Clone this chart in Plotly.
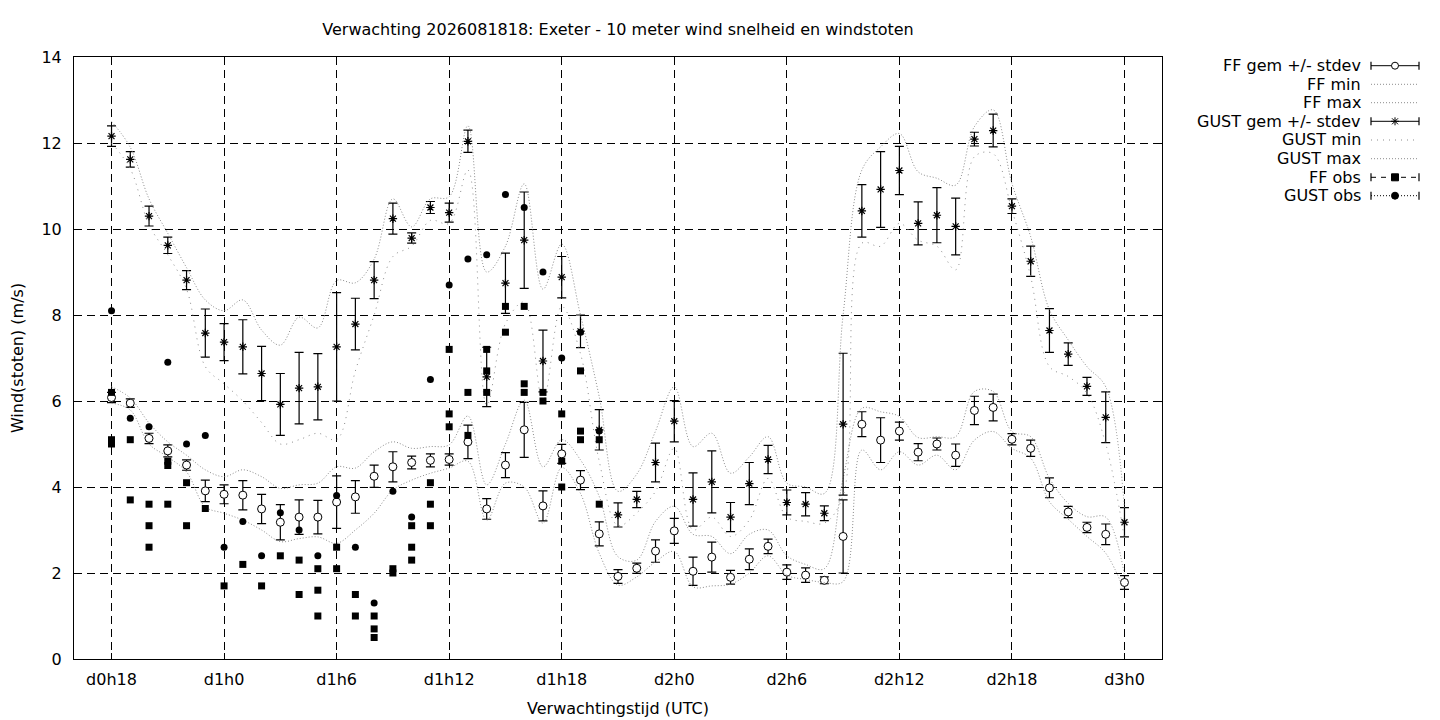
import plotly.graph_objects as go

# Forecast hours (hourly steps from d0h18 to d3h0)
hours = list(range(18, 73))
tick_hours = [18, 24, 30, 36, 42, 48, 54, 60, 66, 72]
tick_labels = ["d0h18", "d1h0", "d1h6", "d1h12", "d1h18",
               "d2h0", "d2h6", "d2h12", "d2h18", "d3h0"]

# Mean wind speed (FF) and its spread
ff_mean = [6.08, 5.95, 5.13, 4.84, 4.51, 3.91, 3.83, 3.81, 3.49, 3.18,
           3.30, 3.30, 3.65, 3.77, 4.25, 4.47, 4.57, 4.62, 4.64, 5.05,
           3.49, 4.51, 5.33, 3.56, 4.77, 4.16, 2.91, 1.92, 2.11, 2.51,
           2.98, 2.04, 2.37, 1.90, 2.32, 2.62, 2.02, 1.95, 1.83, 2.85,
           5.46, 5.09, 5.30, 4.81, 5.00, 4.74, 5.78, 5.85, 5.11, 4.90,
           3.98, 3.42, 3.06, 2.90, 1.78]
ff_std = [0.12, 0.10, 0.12, 0.14, 0.12, 0.25, 0.22, 0.34, 0.34, 0.41,
          0.40, 0.39, 0.61, 0.38, 0.26, 0.35, 0.15, 0.15, 0.13, 0.39,
          0.24, 0.29, 0.64, 0.35, 0.22, 0.22, 0.28, 0.16, 0.12, 0.26,
          0.29, 0.33, 0.35, 0.16, 0.24, 0.17, 0.17, 0.17, 0.08, 0.85,
          0.29, 0.52, 0.21, 0.20, 0.14, 0.26, 0.33, 0.31, 0.13, 0.19,
          0.23, 0.13, 0.12, 0.24, 0.16]
ff_min = [5.95, 5.79, 5.00, 4.70, 4.35, 3.54, 3.39, 3.23, 3.00, 2.73,
          2.80, 2.84, 2.69, 3.00, 3.39, 3.93, 4.16, 4.32, 4.44, 4.60,
          3.23, 4.09, 4.00, 3.16, 4.45, 3.85, 2.46, 1.72, 1.91, 2.26,
          2.50, 1.68, 1.70, 1.74, 2.00, 2.40, 1.95, 1.85, 1.78, 1.80,
          4.86, 4.40, 4.82, 4.51, 4.74, 4.40, 5.09, 5.29, 4.90, 4.67,
          3.66, 3.25, 2.85, 2.46, 1.58]
ff_max = [6.33, 6.07, 5.49, 5.05, 4.74, 4.40, 4.24, 4.40, 4.24, 3.97,
          4.05, 4.09, 4.47, 4.44, 4.82, 5.05, 4.90, 4.94, 4.98, 5.65,
          4.05, 5.00, 6.02, 4.47, 5.10, 4.63, 3.78, 2.38, 2.30, 3.20,
          3.55, 2.90, 2.85, 2.45, 2.90, 3.00, 2.40, 2.20, 2.10, 4.20,
          5.83, 5.75, 5.64, 5.15, 5.17, 5.17, 6.22, 6.22, 5.29, 5.17,
          4.20, 3.62, 3.31, 3.30, 1.95]

# Mean wind gusts and their spread
gust_mean = [12.16, 11.62, 10.30, 9.62, 8.81, 7.58, 7.37, 7.26, 6.64, 5.92,
             6.30, 6.33, 7.26, 7.79, 8.81, 10.24, 9.79, 10.50, 10.38, 12.04,
             6.56, 8.74, 9.74, 6.93, 8.88, 7.62, 5.33, 3.35, 3.71, 4.57,
             5.53, 3.71, 4.12, 3.30, 4.08, 4.64, 3.64, 3.60, 3.39, 5.46,
             10.42, 10.92, 11.36, 10.13, 10.32, 10.06, 12.09, 12.29, 10.53, 9.25,
             7.64, 7.09, 6.34, 5.62, 3.18]
gust_std = [0.24, 0.18, 0.23, 0.19, 0.22, 0.56, 0.43, 0.63, 0.63, 0.72,
            0.83, 0.77, 1.26, 0.60, 0.43, 0.36, 0.12, 0.14, 0.22, 0.26,
            0.69, 0.70, 1.12, 0.72, 0.48, 0.38, 0.47, 0.28, 0.19, 0.45,
            0.48, 0.62, 0.72, 0.34, 0.49, 0.33, 0.29, 0.27, 0.17, 1.65,
            0.61, 0.88, 0.56, 0.50, 0.64, 0.66, 0.16, 0.38, 0.17, 0.35,
            0.51, 0.26, 0.21, 0.59, 0.34]
gust_min = [12.00, 11.40, 10.10, 9.40, 8.60, 6.80, 6.40, 6.00, 5.50, 5.00,
            5.10, 5.25, 5.10, 6.70, 8.00, 9.36, 9.60, 10.20, 10.13, 11.37,
            5.90, 7.80, 8.30, 6.00, 8.20, 7.10, 4.60, 3.10, 3.40, 3.90,
            4.90, 3.00, 3.30, 2.85, 3.23, 4.20, 3.30, 3.20, 3.16, 3.80,
            9.67, 9.60, 10.13, 9.74, 9.60, 9.05, 11.68, 11.75, 10.44, 8.89,
            6.80, 6.57, 6.18, 5.00, 2.80]
gust_max = [12.50, 11.90, 10.70, 9.90, 9.10, 8.35, 8.10, 8.35, 7.65, 7.30,
            7.95, 7.70, 8.80, 8.75, 9.30, 10.70, 10.05, 10.70, 10.75, 12.40,
            9.00, 9.60, 11.05, 8.60, 9.65, 8.00, 6.10, 3.90, 4.30, 5.30,
            6.33, 4.94, 5.25, 4.32, 4.70, 5.17, 4.09, 4.00, 3.85, 8.00,
            11.37, 11.91, 12.22, 11.33, 11.18, 11.02, 12.38, 12.77, 11.06, 9.82,
            8.12, 7.42, 6.80, 6.33, 3.50]

# Observations (several reports per hour)
ff_obs_hour = [18, 18, 18, 19, 19, 20, 20, 20, 21, 21, 21, 22, 22, 23, 24, 25,
               26, 27, 28, 28, 29, 29, 29, 30, 30, 31, 31, 32, 32, 32, 33, 33,
               34, 34, 34, 35, 35, 35, 36, 36, 36, 37, 37, 38, 38, 38, 39, 39,
               40, 40, 40, 41, 41, 42, 42, 42, 43, 43, 43, 44, 44]
ff_obs = [6.2, 5.1, 5.0, 5.1, 3.7, 3.6, 3.1, 2.6, 4.6, 4.5, 3.6, 4.1, 3.1, 3.5, 1.7, 2.2,
          1.7, 2.4, 2.3, 1.5, 2.1, 1.6, 1.0, 2.6, 2.1, 1.5, 1.0, 1.0, 0.7, 0.5, 2.1, 2.0,
          3.1, 2.6, 2.3, 4.1, 3.6, 3.1, 7.2, 5.7, 5.4, 6.2, 5.2, 7.2, 6.7, 6.2, 8.2, 7.6,
          8.2, 6.4, 6.2, 6.2, 6.0, 5.7, 4.6, 4.0, 6.7, 5.3, 5.1, 5.1, 3.6]
gust_obs_hour = list(range(18, 45))
gust_obs = [8.1, 5.6, 5.4, 6.9, 5.0, 5.2, 2.6, 3.2, 2.4, 3.4, 3.0, 2.4, 3.8, 2.6,
            1.3, 3.9, 3.3, 6.5, 8.7, 9.3, 9.4, 10.8, 10.5, 9.0, 7.0, 7.6, 5.3]

legend_names = ["FF gem +/- stdev", "FF min", "FF max", "GUST gem +/- stdev",
                "GUST min", "GUST max", "FF obs", "GUST obs"]

FONT = "DejaVu Sans"
FSIZE = 16
GREY = "#8c8c8c"

# Page layout in pixels; the html body adds an 8px margin around the figure
OFF = 8
W, H = 1440 - OFF, 720 - OFF
L, R, T, B = 74, 1162, 57, 659


def px_x(p):
    return (p - L) / (R - L)


def px_y(p):
    return (B - p) / (B - T)


fig = go.Figure()

fig.add_trace(go.Scatter(
    x=hours, y=ff_mean, mode="markers", name=legend_names[0],
    error_y=dict(type="data", array=ff_std, color="black", thickness=1.2, width=4.5),
    marker=dict(symbol="circle", size=8, color="white", line=dict(color="black", width=1))
))
fig.add_trace(go.Scatter(
    x=hours, y=ff_min, mode="lines", name=legend_names[1],
    line=dict(color=GREY, width=1, dash="1px,2px", shape="spline", smoothing=1)
))
fig.add_trace(go.Scatter(
    x=hours, y=ff_max, mode="lines", name=legend_names[2],
    line=dict(color=GREY, width=1, dash="1px,2px", shape="spline", smoothing=1)
))
fig.add_trace(go.Scatter(
    x=hours, y=gust_mean, mode="markers", name=legend_names[3],
    error_y=dict(type="data", array=gust_std, color="black", thickness=1.2, width=4.5),
    marker=dict(symbol="asterisk-open", size=7, color="black", line=dict(color="black", width=1.2))
))
fig.add_trace(go.Scatter(
    x=hours, y=gust_min, mode="lines", name=legend_names[4],
    line=dict(color=GREY, width=1, dash="1px,5px", shape="spline", smoothing=1)
))
fig.add_trace(go.Scatter(
    x=hours, y=gust_max, mode="lines", name=legend_names[5],
    line=dict(color=GREY, width=1, dash="1px,2px", shape="spline", smoothing=1)
))
fig.add_trace(go.Scatter(
    x=ff_obs_hour, y=ff_obs, mode="markers", name=legend_names[6],
    marker=dict(symbol="square", size=7, color="black")
))
fig.add_trace(go.Scatter(
    x=gust_obs_hour, y=gust_obs, mode="markers", name=legend_names[7],
    marker=dict(symbol="circle", size=7, color="black")
))

# Hand-built gnuplot style key: text on the left, sample on the right
rows = [65.7, 84.3, 102.7, 121.3, 140.0, 158.7, 177.3, 195.7]
sx0, sx1, sxm = 1371, 1419, 1395
shapes = []
annotations = []
for name, ry in zip(legend_names, rows):
    annotations.append(dict(
        x=px_x(1363), y=px_y(ry), xref="paper", yref="paper", text=name,
        showarrow=False, xanchor="right", yanchor="middle",
        font=dict(family=FONT, size=FSIZE, color="black")
    ))


def hline(ry, dash, color="black"):
    shapes.append(dict(type="line", xref="paper", yref="paper",
                       x0=px_x(sx0), x1=px_x(sx1), y0=px_y(ry), y1=px_y(ry),
                       line=dict(color=color, width=1, dash=dash)))


def caps(ry):
    for cx in (sx0, sx1):
        shapes.append(dict(type="line", xref="paper", yref="paper",
                           x0=px_x(cx), x1=px_x(cx), y0=px_y(ry - 4), y1=px_y(ry + 4),
                           line=dict(color="black", width=1.2)))


def dot(ry, r, fill, kind="circle"):
    shapes.append(dict(type=kind, xref="paper", yref="paper",
                       x0=px_x(sxm - r), x1=px_x(sxm + r), y0=px_y(ry + r), y1=px_y(ry - r),
                       fillcolor=fill, line=dict(color="black", width=1)))


# FF gem
hline(rows[0], "solid")
caps(rows[0])
dot(rows[0], 3.5, "white")
# FF min / FF max
hline(rows[1], "1px,2px", GREY)
hline(rows[2], "1px,2px", GREY)
# GUST gem with asterisk
hline(rows[3], "solid")
caps(rows[3])
for dx, dy in [(4, 0), (0, 4), (3, 3), (3, -3)]:
    shapes.append(dict(type="line", xref="paper", yref="paper",
                       x0=px_x(sxm - dx), x1=px_x(sxm + dx),
                       y0=px_y(rows[3] - dy), y1=px_y(rows[3] + dy),
                       line=dict(color="black", width=1)))
# GUST min / GUST max
hline(rows[4], "1px,5px", GREY)
hline(rows[5], "1px,2px", GREY)
# FF obs
hline(rows[6], "5px,5px")
caps(rows[6])
dot(rows[6], 3.5, "black", "rect")
# GUST obs
hline(rows[7], "1px,2px")
caps(rows[7])
dot(rows[7], 3.5, "black")

axis_common = dict(
    showline=True, linecolor="black", linewidth=1, mirror="ticks",
    ticks="inside", ticklen=6, tickcolor="black", automargin=False,
    showgrid=True, gridcolor="black", gridwidth=1, griddash="8px,5px",
    zeroline=False, tickfont=dict(family=FONT, size=FSIZE, color="black"),
)

fig.update_layout(
    width=W, height=H,
    margin=dict(l=L - OFF, r=1440 - R, t=T - OFF, b=720 - B),
    paper_bgcolor="white", plot_bgcolor="white",
    showlegend=False,
    font=dict(family=FONT, size=FSIZE, color="black"),
    title=dict(text="Verwachting 2026081818: Exeter - 10 meter wind snelheid en windstoten",
               x=(618 - OFF) / W, xanchor="center",
               y=1 - (29 - OFF) / H, yanchor="middle",
               font=dict(family=FONT, size=FSIZE, color="black")),
    xaxis=dict(range=[16, 74], tickvals=tick_hours, ticktext=tick_labels,
               ticklabelstandoff=6,
               title=dict(text="Verwachtingstijd (UTC)", standoff=14,
                          font=dict(family=FONT, size=FSIZE, color="black")),
               **axis_common),
    yaxis=dict(range=[0, 14], tickvals=list(range(0, 15, 2)),
               ticklabelstandoff=8,
               title=dict(text="Wind(stoten) (m/s)", standoff=18,
                          font=dict(family=FONT, size=FSIZE, color="black")),
               **axis_common),
    shapes=shapes, annotations=annotations,
)

fig.write_html("out.html")
